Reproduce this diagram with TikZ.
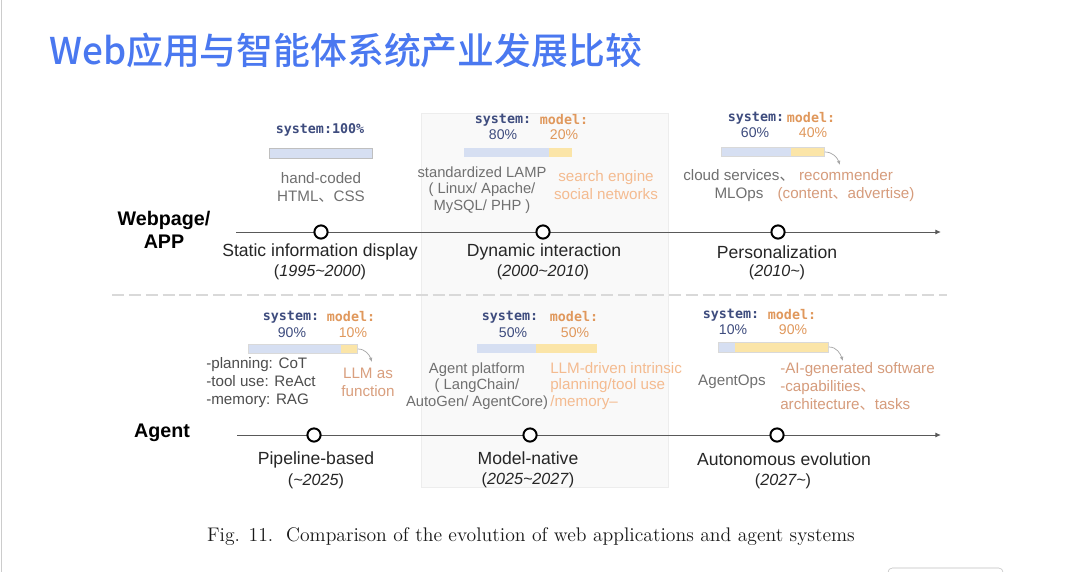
\documentclass[tikz,border=0pt]{standalone}
\usepackage{fontspec}
\setsansfont{Liberation Sans}
\setmonofont{DejaVu Sans Mono}
\newfontfamily\cjk{Noto Sans CJK SC}
\newfontfamily\cjktitle{Noto Sans CJK SC Medium}
\usetikzlibrary{arrows.meta, positioning}

\definecolor{titleblue}{HTML}{4A78F0}
\definecolor{sysnavy}{HTML}{3E4C7E}
\definecolor{modelorange}{HTML}{E0985C}
\definecolor{barblue}{HTML}{D6DFF2}
\definecolor{baryellow}{HTML}{FBE5A8}
\definecolor{softgray}{HTML}{707070}
\definecolor{darkgray}{HTML}{4D4D4D}
\definecolor{peach}{HTML}{F4BB90}
\definecolor{tan}{HTML}{D69C7C}

\begin{document}
\begin{tikzpicture}[
        x=0.025cm, y=-0.025cm, >=Latex, font=\sffamily,
        stage/.style={circle, draw=black, line width=1.4pt, fill=white, minimum size=0.33cm, inner sep=0pt},
        era/.style={font=\sffamily\fontsize{12.5}{14}\selectfont, text=black!85},
        years/.style={font=\sffamily\fontsize{11.5}{13}\selectfont, text=black!85},
        rowlabel/.style={font=\sffamily\bfseries\fontsize{14}{16.5}\selectfont, align=center},
        share/.style={font=\ttfamily\bfseries\fontsize{9.5}{11}\selectfont},
        pct/.style={font=\sffamily\fontsize{10}{12}\selectfont},
        note/.style={font=\sffamily\fontsize{10.8}{12.8}\selectfont, text=softgray, align=center, inner sep=0pt},
        sysbar/.style={fill=barblue},
        modbar/.style={fill=baryellow},
        track/.style={draw=black!65, line width=0.7pt, -{Latex[length=4pt, width=3.5pt]}},
        hook/.style={draw=black!35, line width=0.5pt, -{Latex[length=3pt, width=2.5pt]}}
    ]
    \useasboundingbox[fill=white] (0,0) rectangle (1080,572);
    \draw[black!20] (1,0) -- (1,572);
    \draw[black!25, rounded corners=3pt] (888,600) -- (888,568) -- (1003,568) -- (1003,600);

    % highlighted middle column
    \draw[draw=black!7, fill=black!2.5] (421,113) rectangle (668,487);

    \node[anchor=west, inner sep=0pt, font=\cjktitle\fontsize{26.2}{29}\selectfont, text=titleblue] (title) at (49,50) {Web应用与智能体系统产业发展比较};

    % row labels and time lines
    \node[rowlabel] (web) at (164,230) {Webpage/\\APP};
    \node[rowlabel] (agent) at (162,433) {Agent};
    \coordinate (webstart) at (236,232);
    \coordinate (webend) at (941,232);
    \coordinate (agentstart) at (237,435);
    \coordinate (agentend) at (941,435);
    \draw[track] (webstart) -- (webend);
    \draw[track] (agentstart) -- (agentend);
    \coordinate (sepstart) at (112,295);
    \coordinate (sepend) at (947,295);
    \draw[black!15, line width=1.5pt, dash pattern=on 8.5pt off 3.5pt] (sepstart) -- (sepend);

    \node[stage] (static) at (321,232) {};
    \node[stage] (dynamic) at (543,232) {};
    \node[stage] (personal) at (778,232) {};
    \node[stage] (pipeline) at (314,435) {};
    \node[stage] (native) at (530,435) {};
    \node[stage] (autonomous) at (777,435) {};

    \node[era] (staticera) at (320,252) {Static information display};
    \node[years] (staticyears) at (320,272) {(\textit{1995\textasciitilde2000})};
    \node[era] (dynamicera) at (544,252) {Dynamic interaction};
    \node[years] (dynamicyears) at (543,272) {(\textit{2000\textasciitilde2010})};
    \node[era] (personalera) at (777,252) {Personalization};
    \node[years] (personalyears) at (777,272) {(\textit{2010\textasciitilde})};
    \node[era] (pipelineera) at (316,460) {Pipeline-based};
    \node[years] (pipelineyears) at (316,481) {(\textit{\textasciitilde2025})};
    \node[era] (nativeera) at (528,458) {Model-native};
    \node[years] (nativeyears) at (528,480) {(\textit{2025\textasciitilde2027})};
    \node[era] (autonomousera) at (784,459) {Autonomous evolution};
    \node[years] (autonomousyears) at (783,481) {(\textit{2027\textasciitilde})};

    % system / model shares
    \node[share, text=sysnavy] (share1) at (320,130) {system:100\%};
    \draw[sysbar, draw=black!25] (269,148) rectangle (372,158);

    \node[share, text=sysnavy] (sys2) at (503,120) {system:};
    \node[share, text=modelorange] (mod2) at (564,120) {model:};
    \node[pct, text=sysnavy] (syspct2) at (503,135) {80\%};
    \node[pct, text=modelorange] (modpct2) at (564,135) {20\%};
    \fill[sysbar] (464,148) rectangle (549,157);
    \fill[modbar] (549,148) rectangle (572,157);

    \node[share, text=sysnavy] (sys3) at (756,118) {system:};
    \node[share, text=modelorange] (mod3) at (811,118) {model:};
    \node[pct, text=sysnavy] (syspct3) at (755,133) {60\%};
    \node[pct, text=modelorange] (modpct3) at (813,133) {40\%};
    \fill[sysbar] (721,147) rectangle (791,156);
    \fill[modbar] (791,147) rectangle (824,156);
    \draw[black!15] (721,147) rectangle (824,156);
    \coordinate (bar3end) at (825,152);
    \coordinate (bar3tip) at (840,165);
    \draw[hook] (bar3end) to[out=0, in=110] (bar3tip);

    \node[share, text=sysnavy] (sys4) at (291,317) {system:};
    \node[share, text=modelorange] (mod4) at (351,317) {model:};
    \node[pct, text=sysnavy] (syspct4) at (292,333) {90\%};
    \node[pct, text=modelorange] (modpct4) at (353,333) {10\%};
    \fill[sysbar] (248,344) rectangle (341,353);
    \fill[modbar] (341,344) rectangle (357,353);
    \draw[black!15] (248,344) rectangle (357,353);
    \coordinate (bar4end) at (358,349);
    \coordinate (bar4tip) at (372,362);
    \draw[hook] (bar4end) to[out=0, in=110] (bar4tip);

    \node[share, text=sysnavy] (sys5) at (510,317) {system:};
    \node[share, text=modelorange] (mod5) at (574,317) {model:};
    \node[pct, text=sysnavy] (syspct5) at (513,333) {50\%};
    \node[pct, text=modelorange] (modpct5) at (575,333) {50\%};
    \fill[sysbar] (477,344) rectangle (536,353);
    \fill[modbar] (536,344) rectangle (597,353);

    \node[share, text=sysnavy] (sys6) at (731,315) {system:};
    \node[share, text=modelorange] (mod6) at (792,315) {model:};
    \node[pct, text=sysnavy] (syspct6) at (733,330) {10\%};
    \node[pct, text=modelorange] (modpct6) at (793,330) {90\%};
    \fill[sysbar] (718,342) rectangle (735,352);
    \fill[modbar] (735,342) rectangle (828,352);
    \draw[black!15] (718,342) rectangle (828,352);
    \coordinate (bar6end) at (829,347);
    \coordinate (bar6tip) at (843,361);
    \draw[hook] (bar6end) to[out=0, in=110] (bar6tip);

    % notes, web row
    \node[note] (handcoded) at (321,187) {hand-coded\\HTML{\cjk 、}CSS};
    \node[note, font=\sffamily\fontsize{10.5}{11.8}\selectfont] (lamp) at (482,190) {standardized LAMP\\( Linux/ Apache/\\MySQL/ PHP )};
    \node[note, text=peach] (search) at (606,185) {search engine\\social networks};
    \node[note] (cloud) at (739,186) {cloud services{\cjk 、}\\MLOps};
    \node[note, text=tan] (recommender) at (846,186) {recommender\\(content{\cjk 、}advertise)};

    % notes, agent row
    \node[note, text=darkgray, align=left, anchor=west] (modules) at (206,383) {-planning: CoT\\-tool use: ReAct\\-memory: RAG};
    \node[note, text=tan!90!peach] (llmfunc) at (368,382) {LLM as\\function};
    \node[note, font=\sffamily\fontsize{10.5}{11.8}\selectfont] (platform) at (477,386) {Agent platform\\( LangChain/\\AutoGen/ AgentCore)};
    \node[note, text=peach, align=left, anchor=west, font=\sffamily\fontsize{10.8}{11.8}\selectfont] (intrinsic) at (550,386) {LLM-driven intrinsic\\planning/tool use\\/memory\textendash};
    \node[note] (agentops) at (732,382) {AgentOps};
    \node[note, text=tan, align=left, anchor=west] (generated) at (780,386) {-AI-generated software\\-capabilities{\cjk 、}\\architecture{\cjk 、}tasks};

    \node[font=\rmfamily\fontsize{14}{16}\selectfont, text=black!90] (caption) at (531,537) {Fig. 11.\ \ Comparison of the evolution of web applications and agent systems};
\end{tikzpicture}
\end{document}
